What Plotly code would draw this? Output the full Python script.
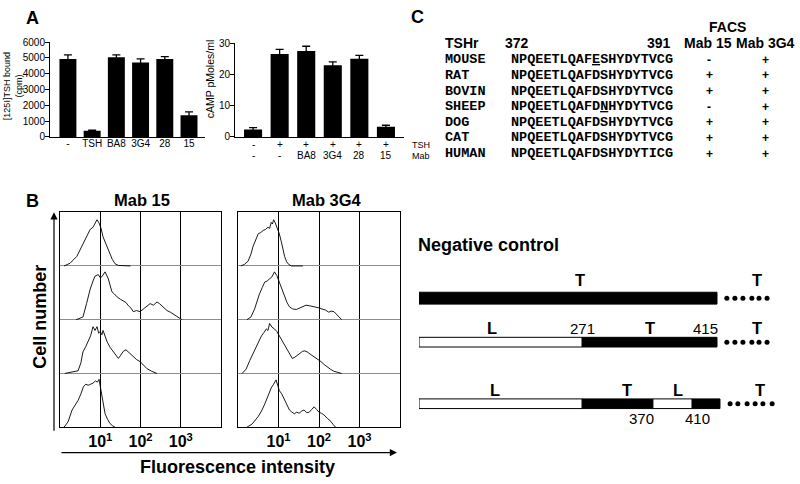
import plotly.graph_objects as go

W, H = 800, 484
SANS = "Liberation Sans, Arial, sans-serif"
MONO = "Liberation Mono, Courier New, monospace"

# ---------------- Panel A data ----------------
binding_labels = ["-", "TSH", "BA8", "3G4", "28", "15"]
binding_values = [4930, 400, 5050, 4720, 4930, 1380]
binding_err = [260, 30, 150, 220, 160, 210]

camp_tsh_row = ["-", "+", "+", "+", "+", "+"]
camp_mab_row = ["-", "-", "BA8", "3G4", "28", "15"]
camp_values = [2.4, 26.5, 27.5, 22.9, 25.0, 3.3]
camp_err = [0.6, 1.5, 1.5, 1.1, 1.1, 0.45]

# ---------------- Panel B data (log10 intensity, relative count) ----------------
mab15_x = [
    [0.10, 0.25, 0.42, 0.55, 0.67, 0.75, 0.82, 0.87, 0.92, 0.97, 1.02, 1.07, 1.15, 1.24, 1.30, 1.37, 1.45, 1.75],
    [0.40, 0.57, 0.66, 0.75, 0.82, 0.87, 0.95, 1.00, 1.04, 1.08, 1.12, 1.20, 1.29, 1.35, 1.41, 1.50, 1.57, 1.64,
     1.70, 1.76, 1.82, 1.90, 1.99, 2.07, 2.15, 2.24, 2.32, 2.41, 2.47, 2.53, 2.60, 2.66, 2.74, 2.81, 2.90, 3.03],
    [0.12, 0.30, 0.45, 0.52, 0.57, 0.64, 0.70, 0.76, 0.82, 0.87, 0.92, 0.96, 1.00, 1.04, 1.07, 1.12, 1.17, 1.25,
     1.32, 1.38, 1.45, 1.50, 1.57, 1.64, 1.70, 1.76, 1.82, 1.90, 1.99, 2.08, 2.16, 2.28, 2.41],
    [0.10, 0.20, 0.30, 0.38, 0.45, 0.52, 0.58, 0.64, 0.70, 0.76, 0.82, 0.88, 0.93, 0.97, 1.00, 1.04, 1.08, 1.12,
     1.18, 1.24, 1.30, 1.37],
]
mab15_y = [
    [0.00, 0.05, 0.18, 0.38, 0.57, 0.68, 0.72, 0.80, 0.86, 0.80, 0.70, 0.54, 0.40, 0.25, 0.12, 0.04, 0.01, 0.00],
    [0.00, 0.05, 0.30, 0.57, 0.72, 0.81, 0.84, 0.78, 0.80, 0.86, 0.89, 0.76, 0.52, 0.48, 0.43, 0.38, 0.35, 0.32,
     0.26, 0.22, 0.15, 0.17, 0.15, 0.20, 0.24, 0.30, 0.27, 0.33, 0.30, 0.26, 0.22, 0.17, 0.14, 0.11, 0.06, 0.00],
    [0.00, 0.02, 0.05, 0.20, 0.40, 0.50, 0.59, 0.70, 0.87, 0.80, 0.87, 0.75, 0.78, 0.72, 0.80, 0.70, 0.59, 0.48,
     0.41, 0.34, 0.28, 0.33, 0.41, 0.44, 0.40, 0.36, 0.31, 0.26, 0.22, 0.15, 0.09, 0.04, 0.00],
    [0.00, 0.10, 0.32, 0.42, 0.50, 0.62, 0.75, 0.80, 0.78, 0.80, 0.82, 0.86, 0.84, 0.89, 0.75, 0.55, 0.38, 0.25,
     0.15, 0.07, 0.03, 0.00],
]
mab3g4_x = [
    [0.07, 0.16, 0.25, 0.32, 0.37, 0.44, 0.50, 0.56, 0.62, 0.68, 0.74, 0.78, 0.82, 0.85, 0.88, 0.92, 0.96, 1.02,
     1.07, 1.11, 1.15, 1.20, 1.25, 1.32, 1.60],
    [0.22, 0.32, 0.41, 0.47, 0.53, 0.60, 0.66, 0.72, 0.78, 0.84, 0.90, 0.96, 1.02, 1.08, 1.15, 1.21, 1.27, 1.35,
     1.44, 1.52, 1.59, 1.68, 1.76, 1.84, 1.92, 2.00, 2.07, 2.16, 2.24, 2.30, 2.37, 2.43, 2.49, 2.56],
    [0.10, 0.20, 0.29, 0.38, 0.46, 0.52, 0.58, 0.64, 0.70, 0.74, 0.78, 0.84, 0.90, 0.96, 1.02, 1.10, 1.18, 1.26,
     1.34, 1.40, 1.46, 1.52, 1.59, 1.65, 1.71, 1.80, 1.88, 1.96, 2.05, 2.12, 2.20, 2.28, 2.37, 2.46, 2.56],
    [0.22, 0.35, 0.50, 0.58, 0.66, 0.74, 0.82, 0.88, 0.94, 0.98, 1.02, 1.08, 1.15, 1.21, 1.27, 1.33, 1.39, 1.45,
     1.51, 1.57, 1.63, 1.70, 1.76, 1.82, 1.88, 1.94, 2.00, 2.06, 2.12, 2.20, 2.29, 2.35, 2.41],
]
mab3g4_y = [
    [0.00, 0.03, 0.09, 0.22, 0.36, 0.48, 0.60, 0.62, 0.66, 0.68, 0.72, 0.70, 0.81, 0.78, 0.86, 0.80, 0.72, 0.60,
     0.45, 0.30, 0.18, 0.08, 0.03, 0.00, 0.00],
    [0.00, 0.05, 0.20, 0.35, 0.48, 0.60, 0.70, 0.72, 0.76, 0.80, 0.89, 0.82, 0.70, 0.58, 0.45, 0.32, 0.24, 0.20,
     0.19, 0.22, 0.24, 0.27, 0.26, 0.25, 0.24, 0.22, 0.20, 0.18, 0.14, 0.16, 0.15, 0.10, 0.06, 0.00],
    [0.00, 0.08, 0.24, 0.38, 0.52, 0.62, 0.70, 0.76, 0.83, 0.80, 0.93, 0.86, 0.83, 0.78, 0.70, 0.60, 0.50, 0.38,
     0.28, 0.30, 0.33, 0.37, 0.41, 0.42, 0.40, 0.35, 0.31, 0.26, 0.22, 0.17, 0.12, 0.08, 0.04, 0.02, 0.00],
    [0.00, 0.06, 0.20, 0.30, 0.43, 0.58, 0.73, 0.80, 0.88, 0.78, 0.68, 0.62, 0.52, 0.42, 0.32, 0.28, 0.25, 0.28,
     0.26, 0.30, 0.32, 0.27, 0.28, 0.33, 0.38, 0.33, 0.28, 0.26, 0.23, 0.17, 0.11, 0.05, 0.00],
]
flow_ticks = [10, 100, 1000]
flow_ticktext = ["10<sup>1</sup>", "10<sup>2</sup>", "10<sup>3</sup>"]

# ---------------- Panel C data ----------------
species = ["MOUSE", "RAT", "BOVIN", "SHEEP", "DOG", "CAT", "HUMAN"]
sequences = ["NPQEETLQAFESHYDYTVCG", "NPQEETLQAFDSHYDYTVCG", "NPQEETLQAFDSHYDYTVCG",
             "NPQEETLQAFDNHYDYTVCG", "NPQEETLQAFDSHYDYTVCG", "NPQEETLQAFDSHYDYTVCG",
             "NPQEETLQAFDSHYDYTICG"]
underlined = [10, None, None, 11, None, None, None]
facs_mab15 = ["-", "+", "+", "-", "+", "+", "+"]
facs_mab3g4 = ["+", "+", "+", "+", "+", "+", "+"]

# ---------------- Constructs (diagram units) ----------------
seg_row = [0, 1, 1, 2, 2, 2, 2]
seg_start = [0, 0, 54.7, 0, 54.7, 78.5, 91.6]
seg_end = [100, 54.7, 100, 54.7, 78.5, 91.6, 101]
seg_black = [True, False, True, False, True, False, True]
row_pos = [0, 1, 2.4]
row_thick = [0.27, 0.22, 0.22]
dot_row = [0] * 6 + [1] * 6 + [2] * 6
dot_x = [103.3, 106.0, 108.7, 111.7, 114.1, 116.8,
         103.3, 106.0, 108.7, 111.7, 114.1, 116.8,
         104.4, 107.0, 110.1, 112.8, 115.4, 118.5]
lab_row = [0, 0, 1, 1, 1, 1, 1, 2, 2, 2, 2, 2, 2]
lab_x = [54.0, 113.4, 24.5, 55.0, 77.5, 96.3, 113.4, 25.5, 69.8, 86.9, 114.4, 74.8, 93.3]
lab_text = ["T", "T", "L", "271", "T", "415", "T", "L", "T", "L", "T", "370", "410"]
lab_below = [False] * 11 + [True, True]


def dx(a, b):
    return [a / W, b / W]


def dy(top, bottom):
    return [1 - bottom / H, 1 - top / H]


def fx(p):
    return p / W


def fy(p):
    return 1 - p / H


fig = go.Figure()

# Panel A left
fig.add_trace(go.Bar(x=binding_labels, y=binding_values, marker=dict(color="black", line=dict(width=0)),
                     width=0.7, error_y=dict(type="data", array=binding_err, color="black", thickness=1.3, width=4),
                     xaxis="x", yaxis="y", showlegend=False))
# Panel A right
fig.add_trace(go.Bar(x=list(range(len(camp_values))), y=camp_values, marker=dict(color="black", line=dict(width=0)),
                     width=0.68, error_y=dict(type="data", array=camp_err, color="black", thickness=1.3, width=4),
                     xaxis="x2", yaxis="y2", showlegend=False))

# Panel B histograms
for box, (xs, ys) in enumerate([(mab15_x, mab15_y), (mab3g4_x, mab3g4_y)]):
    ax = "x3" if box == 0 else "x4"
    ay = "y3" if box == 0 else "y4"
    for r in range(4):
        off = 3 - r
        fig.add_trace(go.Scatter(x=[10 ** v for v in xs[r]], y=[off + v for v in ys[r]], mode="lines",
                                 line=dict(color="black", width=0.9), xaxis=ax, yaxis=ay, showlegend=False,
                                 hoverinfo="skip"))

# Constructs
for black in (True, False):
    idx = [i for i in range(len(seg_start)) if seg_black[i] == black]
    fig.add_trace(go.Bar(orientation="h",
                         y=[row_pos[seg_row[i]] for i in idx],
                         base=[seg_start[i] for i in idx],
                         x=[seg_end[i] - seg_start[i] for i in idx],
                         width=[row_thick[seg_row[i]] for i in idx],
                         marker=dict(color="black" if black else "white", line=dict(color="black", width=1)),
                         xaxis="x5", yaxis="y5", showlegend=False, hoverinfo="skip"))
fig.add_trace(go.Scatter(x=dot_x, y=[row_pos[r] for r in dot_row], mode="markers",
                         marker=dict(color="black", size=5), xaxis="x5", yaxis="y5", showlegend=False,
                         hoverinfo="skip"))

ann = []
# Panel A annotations
ann.append(dict(text="<b>A</b>", x=fx(32), y=fy(12), font=dict(size=18)))
ann.append(dict(text="[125I]TSH bound<br>(cpm)", x=fx(13), y=fy(82), textangle=-90, font=dict(size=9)))
ann.append(dict(text="cAMP pMoles/ml", x=fx(210), y=fy(75), textangle=-90, font=dict(size=10.5)))
for i in range(len(camp_tsh_row)):
    ann.append(dict(text=camp_tsh_row[i], x=i, xref="x2", y=fy(142), font=dict(size=10)))
    ann.append(dict(text=camp_mab_row[i], x=i, xref="x2", y=fy(153), font=dict(size=10)))
ann.append(dict(text="TSH", x=fx(410), y=fy(142), xanchor="left", font=dict(size=9)))
ann.append(dict(text="Mab", x=fx(410), y=fy(153), xanchor="left", font=dict(size=9)))

# Panel C annotations
ann.append(dict(text="<b>C</b>", x=fx(417), y=fy(11), font=dict(size=18)))
ann.append(dict(text="<b>FACS</b>", x=fx(727), y=fy(21), font=dict(size=14)))
ann.append(dict(text="<b>TSHr</b>", x=fx(443), y=fy(38), xanchor="left", font=dict(size=14)))
ann.append(dict(text="<b>372</b>", x=fx(503), y=fy(38), xanchor="left", font=dict(size=14)))
ann.append(dict(text="<b>391</b>", x=fx(673), y=fy(38), xanchor="right", font=dict(size=14)))
ann.append(dict(text="<b>Mab 15</b>", x=fx(708), y=fy(38), font=dict(size=14)))
ann.append(dict(text="<b>Mab 3G4</b>", x=fx(765), y=fy(38), font=dict(size=14)))
for i, sp in enumerate(species):
    seq = sequences[i]
    u = underlined[i]
    if u is not None:
        seq = seq[:u] + "<u>" + seq[u] + "</u>" + seq[u + 1:]
    ann.append(dict(text="<b>" + sp + "</b>", x=fx(443), y=i, yref="y6", xanchor="left",
                    font=dict(size=13.5, family=MONO)))
    ann.append(dict(text="<b>" + seq + "</b>", x=fx(509), y=i, yref="y6", xanchor="left",
                    font=dict(size=13.5, family=MONO)))
    ann.append(dict(text="<b>" + facs_mab15[i] + "</b>", x=fx(709), y=i, yref="y6", font=dict(size=12)))
    ann.append(dict(text="<b>" + facs_mab3g4[i] + "</b>", x=fx(765), y=i, yref="y6", font=dict(size=12)))

# Panel B annotations
ann.append(dict(text="<b>B</b>", x=fx(32), y=fy(200), font=dict(size=18)))
ann.append(dict(text="<b>Mab 15</b>", x=fx(142), y=fy(199), font=dict(size=16.5)))
ann.append(dict(text="<b>Mab 3G4</b>", x=fx(327), y=fy(198), font=dict(size=16.5)))
ann.append(dict(text="<b>Cell number</b>", x=fx(40), y=fy(318), textangle=-90, font=dict(size=18)))
ann.append(dict(text="<b>Fluorescence intensity</b>", x=fx(237), y=fy(472), font=dict(size=18)))
ann.append(dict(text="", x=fx(54), y=fy(211), ax=0, ay=220, axref="pixel", ayref="pixel",
                showarrow=True, arrowhead=2, arrowsize=1.2, arrowwidth=1.2, arrowcolor="black"))
ann.append(dict(text="", x=fx(397), y=fy(457), ax=-337, ay=0, axref="pixel", ayref="pixel",
                showarrow=True, arrowhead=2, arrowsize=1.2, arrowwidth=1.2, arrowcolor="black"))

# Negative control
ann.append(dict(text="<b>Negative control</b>", x=fx(416), y=fy(245), xanchor="left", font=dict(size=18)))
for i in range(len(lab_text)):
    bold = lab_text[i] in ("T", "L")
    ann.append(dict(text=("<b>%s</b>" % lab_text[i]) if bold else lab_text[i], x=lab_x[i], xref="x5",
                    y=row_pos[lab_row[i]], yref="y5",
                    yshift=(-15 if lab_below[i] else (18 if lab_row[i] == 0 else 14)),
                    font=dict(size=16.5 if bold else 15)))

for a in ann:
    a.setdefault("xref", "paper")
    a.setdefault("yref", "paper")
    a.setdefault("showarrow", False)
    a.setdefault("xanchor", "center")
    a.setdefault("yanchor", "middle")
    f = a.setdefault("font", {})
    f.setdefault("family", SANS)
    f.setdefault("color", "black")

axis_common = dict(showline=True, linecolor="black", linewidth=1, zeroline=False, showgrid=False)
tickf = dict(family=SANS, size=10, color="black")
flowtick = dict(family=SANS, size=16, color="black", weight="bold")

fig.update_layout(
    width=W, height=H, autosize=False, margin=dict(l=0, r=0, t=0, b=0),
    paper_bgcolor="white", plot_bgcolor="rgba(0,0,0,0)", barmode="overlay",
    font=dict(family=SANS, color="black"),
    annotations=ann,
    xaxis=dict(domain=dx(50, 205), type="category", range=[-0.74, 5.66], ticks="", tickfont=tickf,
               ticklabelstandoff=-3, fixedrange=True, **axis_common),
    yaxis=dict(domain=dy(37, 134), range=[0, 6000], tickvals=[0, 1000, 2000, 3000, 4000, 5000, 6000],
               ticks="outside", ticklen=4, tickcolor="black", tickfont=tickf, ticklabelstandoff=-2,
               **axis_common),
    xaxis2=dict(domain=dx(235, 404), range=[-0.68, 5.68], showticklabels=False, ticks="", anchor="y2",
                **axis_common),
    yaxis2=dict(domain=dy(38, 134), range=[0, 30], tickvals=[0, 10, 20, 30], ticks="outside", ticklen=4,
                tickcolor="black", tickfont=tickf, ticklabelstandoff=-2, anchor="x2", **axis_common),
    xaxis3=dict(domain=dx(60, 221), type="log", range=[0, 4], tickvals=flow_ticks, ticktext=flow_ticktext,
                ticks="", showgrid=True, gridcolor="black", gridwidth=1, showline=True, mirror=True,
                linecolor="black", zeroline=False, anchor="y3", tickfont=flowtick),
    yaxis3=dict(domain=dy(211, 431), range=[0, 4], tickvals=[1, 2, 3], showticklabels=False, ticks="",
                showgrid=True, gridcolor="#8c8c8c", gridwidth=1, showline=True, mirror=True,
                linecolor="black", zeroline=False, anchor="x3"),
    xaxis4=dict(domain=dx(238, 400), type="log", range=[0, 4], tickvals=flow_ticks, ticktext=flow_ticktext,
                ticks="", showgrid=True, gridcolor="black", gridwidth=1, showline=True, mirror=True,
                linecolor="black", zeroline=False, anchor="y4", tickfont=flowtick),
    yaxis4=dict(domain=dy(211, 431), range=[0, 4], tickvals=[1, 2, 3], showticklabels=False, ticks="",
                showgrid=True, gridcolor="#8c8c8c", gridwidth=1, showline=True, mirror=True,
                linecolor="black", zeroline=False, anchor="x4"),
    xaxis5=dict(domain=dx(419, 419 + 120 * 2.98), range=[0, 120], visible=False, anchor="y5"),
    yaxis5=dict(domain=dy(270, 432), range=[2.956, -0.644], visible=False, anchor="x5"),
    xaxis6=dict(domain=dx(410, 800), range=[0, 1], visible=False, anchor="y6"),
    yaxis6=dict(domain=dy(47, 159), range=[6.5, -0.5], visible=False, anchor="x6"),
)

fig.write_html("out.html", config={"displayModeBar": False},
               post_script="document.body.style.margin='0px';")
